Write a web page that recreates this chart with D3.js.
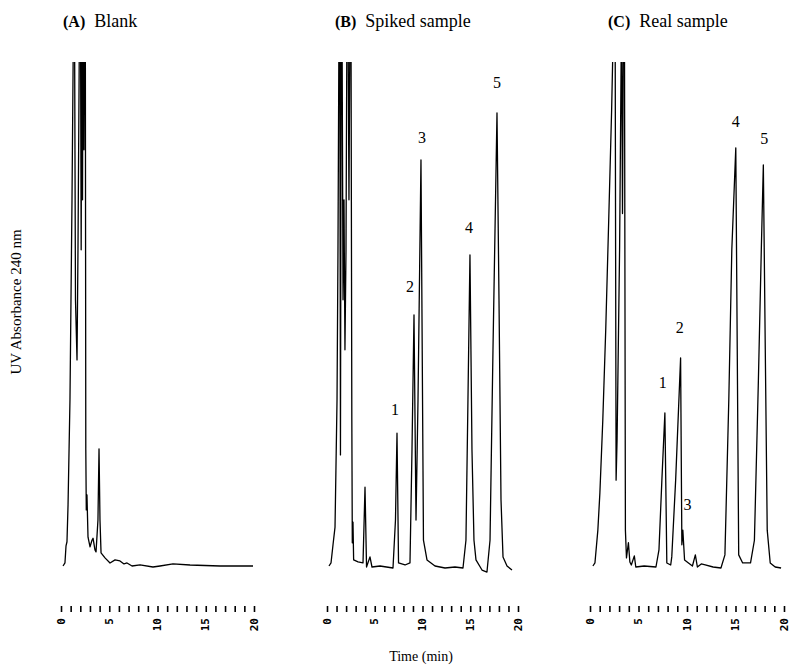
<!DOCTYPE html>
<meta charset="utf-8">
<script src="https://d3js.org/d3.v7.min.js"></script>
<style>
  body { margin: 0; background: #fff; }
  text { font-family: "Liberation Serif", "Times New Roman", serif; }
</style>
<div id="chart"></div>
<script>

// ---- data ----
var panelLetters = ["(A)", "(B)", "(C)"];
var panelNames = ["Blank", "Spiked sample", "Real sample"];

// traces: time (min) and absorbance (arbitrary units, 0 = baseline, 100 = top of plot)
var blankTime = [0.21,0.41,0.52,0.62,0.73,0.93,1.14,1.30,1.40,1.50,1.66,1.76,1.92,2.02,2.09,2.16,2.23,2.28,2.38,2.44,2.52,2.57,2.62,2.69,2.80,3.01,3.21,3.32,3.52,3.63,3.83,3.94,4.04,4.15,4.56,5.08,5.60,6.11,6.53,6.84,7.36,8.19,9.53,10.26,11.61,13.37,16.48,19.90];
var blankAbs  = [0.2,0.8,4.2,5.0,12.3,33.1,72.7,110,110,52.9,41.0,62.8,110,110,62.8,110,72.7,110,82.6,110,110,23.2,11.3,14.3,5.9,4.0,5.3,5.7,3.4,3.0,9.3,23.4,9.3,2.8,1.8,0.8,1.4,1.2,0.6,0.8,0.2,0.4,0,0.2,0.6,0.4,0.2,0.2];

var spikedTime = [0.21,0.42,0.63,0.84,1.05,1.15,1.26,1.34,1.41,1.49,1.57,1.68,1.78,1.88,1.99,2.09,2.20,2.30,2.41,2.51,2.60,2.65,2.72,2.79,3.25,3.77,3.98,4.14,4.50,4.71,5.55,6.91,7.17,7.33,7.49,8.17,8.69,8.90,9.11,9.32,9.53,9.84,10.10,10.47,11.31,12.36,13.40,14.24,14.55,14.76,14.97,15.18,15.39,15.60,16.23,16.75,17.07,17.38,17.80,18.01,18.22,18.43,18.85,19.37];
var spikedAbs  = [0.2,0.8,4.4,7.9,33.1,62.8,110,110,22.2,110,110,52.9,72.7,43.0,62.8,110,110,72.7,110,110,29.1,4.8,8.9,1.4,1.0,0.8,15.8,0,2.0,0,0.2,-0.2,9.3,26.5,0.8,0.4,0.8,23.2,49.9,9.3,33.1,80.6,5.3,1.4,0.2,-0.2,0,-0.2,5.3,33.1,61.8,23.2,5.3,1.4,-0.6,-1.0,5.3,43.0,89.9,52.9,13.3,2.0,0.2,-0.6];

var realTime = [0.30,0.51,0.81,1.02,1.32,1.62,1.93,2.23,2.44,2.59,2.69,2.79,3.05,3.25,3.35,3.45,3.55,3.65,3.76,3.96,4.11,4.26,4.57,4.72,5.58,6.80,7.11,7.41,7.72,7.92,8.32,8.43,8.83,9.34,9.47,9.57,9.75,10.15,10.56,10.86,11.07,11.47,11.88,12.69,13.50,13.91,14.31,14.62,15.03,15.18,15.33,15.74,16.55,16.95,17.36,17.66,17.87,18.07,18.27,18.58,19.09,19.70];
var realAbs  = [0.2,0.8,7.3,14.7,29.1,46.9,68.7,90.5,110,110,17.2,25.1,62.8,110,70.0,110,110,7.3,1.8,4.8,1.0,0.4,2.2,0,0.2,0,3.4,17.2,30.5,0.8,0.4,2.0,17.2,41.4,4.4,7.3,1.4,0.8,0.2,2.4,0,0.6,0.4,0,-0.2,2.4,33.1,62.8,83.0,43.0,2.4,0.8,0.8,5.3,37.0,62.8,79.6,43.0,7.3,0.8,0,-0.2];

// peak numbers: where the labels sit (time, absorbance)
var peakNames = ["1", "2", "3", "4", "5"];
var spikedLabelTime = [7.12, 8.69, 9.95, 14.87, 17.80];
var spikedLabelAbs  = [30.1, 54.5, 84.0, 66.1, 94.9];
var realLabelTime = [7.51, 9.24, 10.05, 15.03, 17.97];
var realLabelAbs  = [35.4, 46.3, 11.3, 87.1, 83.8];

var tickValues = d3.range(0, 21);
var tickLabels = [0, 5, 10, 15, 20];

// ---- layout ----
var width = 791, height = 671;
var yBase = 567, yTop = 62, tickY = 606;

var panels = [
  { x0: 61,  x1: 254, titleX: 63,  time: blankTime,  abs: blankAbs,  lt: [], la: [] },
  { x0: 327, x1: 518, titleX: 335, time: spikedTime, abs: spikedAbs, lt: spikedLabelTime, la: spikedLabelAbs },
  { x0: 590, x1: 784, titleX: 608, time: realTime,   abs: realAbs,   lt: realLabelTime, la: realLabelAbs }
];

var svg = d3.select("#chart")
  .append("svg")
    .attr("width", width)
    .attr("height", height)
    .style("background", "#fff");

var y = d3.scaleLinear()
  .domain([0, 100])
  .range([yBase, yTop]);

svg.append("defs")
  .append("clipPath")
    .attr("id", "plotclip")
  .append("rect")
    .attr("x", 0)
    .attr("y", yTop)
    .attr("width", width)
    .attr("height", height - yTop);

panels.forEach(function(p, i) {

  var x = d3.scaleLinear()
    .domain([0, 20])
    .range([p.x0, p.x1]);

  // title
  var title = svg.append("text")
    .attr("x", p.titleX)
    .attr("y", 27)
    .style("fill", "#000");
  title.append("tspan")
    .style("font-weight", "bold")
    .style("font-size", "16px")
    .text(panelLetters[i]);
  title.append("tspan")
    .attr("dx", 9)
    .style("font-size", "18px")
    .text(panelNames[i]);

  // chromatogram trace
  var pts = p.time.map(function(t, k) { return [t, p.abs[k]]; });
  svg.append("path")
    .datum(pts)
    .attr("clip-path", "url(#plotclip)")
    .attr("fill", "none")
    .attr("stroke", "#000")
    .attr("stroke-width", 1.3)
    .attr("stroke-linejoin", "round")
    .attr("d", d3.line()
      .x(function(d) { return x(d[0]); })
      .y(function(d) { return y(d[1]); }));

  // peak numbers
  svg.selectAll(null)
    .data(p.lt)
    .enter()
    .append("text")
      .attr("x", function(d) { return x(d); })
      .attr("y", function(d, k) { return y(p.la[k]); })
      .attr("text-anchor", "middle")
      .style("font-size", "16px")
      .text(function(d, k) { return peakNames[k]; });

  // time ticks
  var axis = svg.append("g")
    .attr("transform", "translate(0," + tickY + ")")
    .call(d3.axisBottom(x).tickValues(tickValues).tickSize(6).tickFormat(""));
  axis.select(".domain").remove();
  axis.selectAll(".tick line")
    .attr("stroke", "#000")
    .attr("stroke-width", 1.6);

  // rotated tick labels
  svg.selectAll(null)
    .data(tickLabels)
    .enter()
    .append("text")
      .attr("transform", function(d) { return "translate(" + x(d) + "," + (tickY + 12) + ") rotate(-90)"; })
      .attr("text-anchor", "end")
      .attr("dominant-baseline", "central")
      .style("font-family", "'DejaVu Sans Mono', monospace")
      .style("font-weight", "bold")
      .style("font-size", "11px")
      .text(function(d) { return d; });
});

// axis titles
svg.append("text")
  .attr("transform", "translate(16,302) rotate(-90)")
  .attr("text-anchor", "middle")
  .attr("dominant-baseline", "central")
  .style("font-size", "15px")
  .text("UV Absorbance  240 nm");

svg.append("text")
  .attr("x", 421)
  .attr("y", 661)
  .attr("text-anchor", "middle")
  .style("font-size", "14px")
  .text("Time (min)");

</script>
